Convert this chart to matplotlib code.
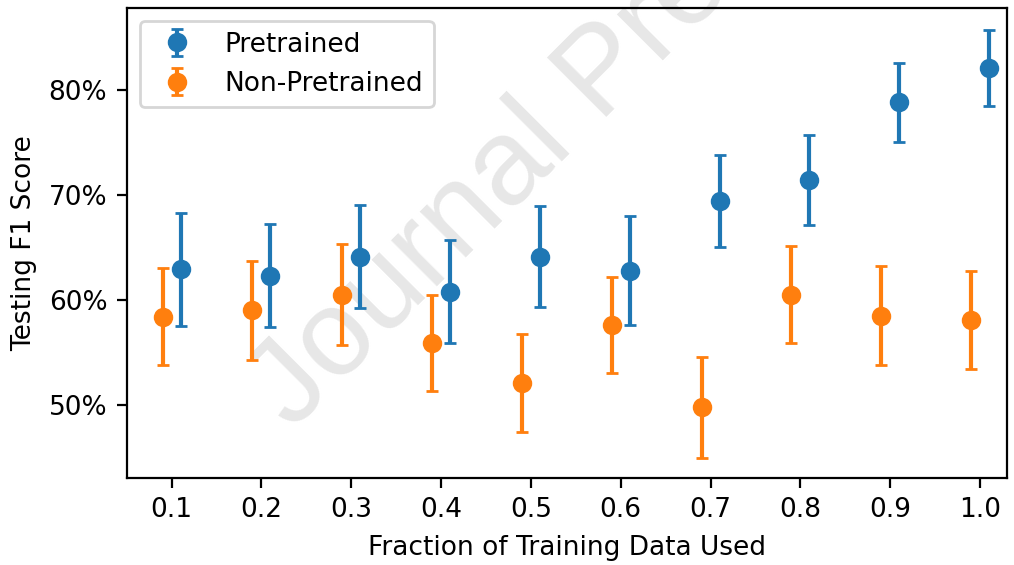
import matplotlib.pyplot as plt
import numpy as np
from matplotlib.ticker import PercentFormatter

fractions = [0.1, 0.2, 0.3, 0.4, 0.5, 0.6, 0.7, 0.8, 0.9, 1.0]

# Testing F1 (%) with error (±)
pre_mean = [62.9, 62.3, 64.1, 60.8, 64.1, 62.8, 69.4, 71.4, 78.8, 82.1]
pre_err = [5.4, 4.9, 4.9, 4.9, 4.8, 5.2, 4.4, 4.3, 3.8, 3.6]
non_mean = [58.4, 59.0, 60.5, 55.9, 52.1, 57.6, 49.8, 60.5, 58.5, 58.1]
non_err = [4.6, 4.7, 4.8, 4.6, 4.7, 4.6, 4.8, 4.6, 4.7, 4.7]

plt.rcParams['font.size'] = 9.5

fig = plt.figure(figsize=(5.07, 2.825), dpi=200)
ax = fig.add_axes([0.125, 0.154, 0.868, 0.832])

x = np.array(fractions)
ax.errorbar(x + 0.01, np.array(pre_mean) / 100, yerr=np.array(pre_err) / 100,
            fmt='o', capsize=2, label='Pretrained', zorder=3)
ax.errorbar(x - 0.01, np.array(non_mean) / 100, yerr=np.array(non_err) / 100,
            fmt='o', capsize=2, label='Non-Pretrained', zorder=3)

ax.set_xlim(0.05, 1.03)
ax.set_ylim(0.4305, 0.878)
ax.set_xticks(fractions)
ax.set_yticks([0.5, 0.6, 0.7, 0.8])
ax.yaxis.set_major_formatter(PercentFormatter(xmax=1, decimals=0))
ax.set_xlabel('Fraction of Training Data Used')
ax.set_ylabel('Testing F1 Score')
ax.legend(loc='upper left')

# watermark (behind the data)
ax.text(0.288, 0.236, 'Journal Pre-proof', transform=fig.transFigure,
        rotation=45, rotation_mode='anchor', fontsize=44,
        family='Liberation Sans', color='#e7e7e7', ha='left', va='baseline',
        zorder=0, clip_on=False)

fig.savefig('out.png')
